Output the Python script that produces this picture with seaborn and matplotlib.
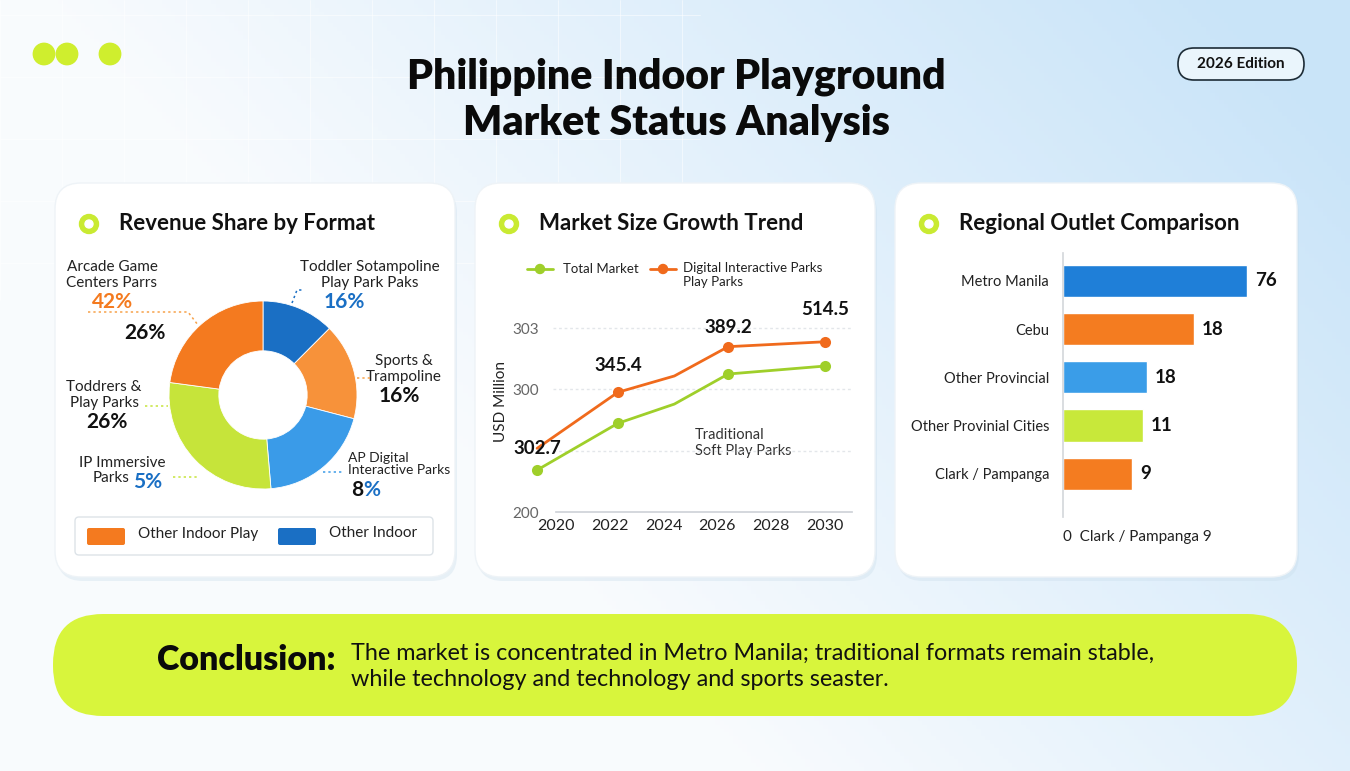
import numpy as np
import matplotlib
matplotlib.use("Agg")
import matplotlib.pyplot as plt
from matplotlib.patches import FancyBboxPatch, Circle
import seaborn as sns

# ---- data ----
pie_labels = ["Toddler Play Parks", "Sports & Trampoline", "AR Digital Interactive Parks",
              "Toddrers & Play Parks", "Arcade Game Centers"]
pie_share = [12.5, 16.6, 19.6, 28.5, 22.9]
pie_colors = ["#1a6fc4", "#f7923a", "#3a9be8", "#c6e43a", "#f47a1f"]

years_total = [2019.3, 2022.3, 2024.4, 2026.4, 2030.0]
total_market = [234.2, 272.3, 288.0, 312.5, 319.0]
years_digital = [2019.3, 2022.3, 2024.4, 2026.4, 2030.0]
digital_parks = [251.9, 297.6, 310.9, 334.8, 338.8]
point_labels = ["302.7", "345.4", "389.2", "514.5"]
y_ticks = [200, 250, 300, 350]
y_tick_labels = ["200", "", "300", "303"]
x_ticks = [2020, 2022, 2024, 2026, 2028, 2030]

regions = ["Metro Manila", "Cebu", "Other Provincial", "Other Provinial Cities", "Clark / Pampanga"]
outlet_bars = [76, 54.2, 34.8, 32.9, 28.6]
outlet_text = ["76", "18", "18", "11", "9"]
outlet_colors = ["#1f7fd8", "#f47c20", "#3a9de8", "#c8e83a", "#f47c20"]

W, H = 1350, 771
sns.set_theme(style="white")
plt.rcParams["font.family"] = ["Lato", "DejaVu Sans"]

fig = plt.figure(figsize=(W / 100, H / 100), dpi=100)


def px_rect(x0, y0, x1, y1):
    return [x0 / W, 1 - y1 / H, (x1 - x0) / W, (y1 - y0) / H]


# background canvas in pixel coords
bg = fig.add_axes([0, 0, 1, 1])
bg.set_xlim(0, W)
bg.set_ylim(H, 0)
bg.axis("off")
gx = np.linspace(0, 1, 300)
gy = np.linspace(0, 1, 200)[:, None]
t = np.clip(gx[None, :] * 1.15 - 0.25 + (0.35 - gy) * 0.6, 0, 1)
c0 = np.array([0.975, 0.985, 0.995])
c1 = np.array([0.79, 0.895, 0.975])
img = c0 + (c1 - c0) * t[..., None]
bg.imshow(img, extent=[0, W, H, 0], aspect="auto", zorder=0)
for gxl in range(0, 700, 62):
    bg.plot([gxl, gxl], [0, 300], color="white", lw=0.6, alpha=0.6, zorder=0.5)
for gyl in range(15, 300, 62):
    bg.plot([0, 700], [gyl, gyl], color="white", lw=0.6, alpha=0.6, zorder=0.5)

# decorative dots
for cx in (44, 67, 110):
    bg.add_patch(Circle((cx, 54), 10.7, color="#cfee2e", zorder=2))

# edition pill
bg.add_patch(FancyBboxPatch((1178, 48), 126, 32, boxstyle="round,pad=0,rounding_size=16",
                            fc="#eaf5fc", ec="#1c2b36", lw=1.2, zorder=2))
bg.text(1241, 64, "2026 Edition", ha="center", va="center", fontsize=11, weight="bold",
        color="#111", zorder=3)

# title
bg.text(676, 77, "Philippine Indoor Playground", ha="center", va="center", fontsize=29.5,
        weight="heavy", color="#0a0a0a", zorder=3)
bg.text(676, 123, "Market Status Analysis", ha="center", va="center", fontsize=29.5,
        weight="heavy", color="#0a0a0a", zorder=3)

# cards
cards = [(55, 183, 455, 577), (475, 183, 875, 577), (895, 183, 1297, 577)]
titles = ["Revenue Share by Format", "Market Size Growth Trend", "Regional Outlet Comparison"]
for (x0, y0, x1, y1), ttl in zip(cards, titles):
    bg.add_patch(FancyBboxPatch((x0 + 2, y0 + 4), x1 - x0, y1 - y0,
                                boxstyle="round,pad=0,rounding_size=26",
                                fc="#c9dcea", ec="none", alpha=0.35, zorder=1))
    bg.add_patch(FancyBboxPatch((x0, y0), x1 - x0, y1 - y0,
                                boxstyle="round,pad=0,rounding_size=26",
                                fc="white", ec="#eef3f7", lw=1, zorder=1.5))
    bg.add_patch(Circle((x0 + 34, 224), 9.5, color="#c9ea32", zorder=2))
    bg.add_patch(Circle((x0 + 34, 224), 4, color="white", zorder=2.1))
    bg.text(x0 + 64, 224, ttl, ha="left", va="center", fontsize=16, weight="bold",
            color="#111", zorder=3)

# conclusion bar
bg.add_patch(FancyBboxPatch((53, 614), 1244, 102, boxstyle="round,pad=0,rounding_size=50",
                            fc="#d8f53c", ec="none", zorder=2))
bg.text(157, 660, "Conclusion:", ha="left", va="center", fontsize=24.5, weight="heavy",
        color="#0a0a0a", zorder=3)
bg.text(351, 653, "The market is concentrated in Metro Manila; traditional formats remain stable,",
        ha="left", va="center", fontsize=16.8, color="#111", zorder=3)
bg.text(351, 679, "while technology and technology and sports sеaster.",
        ha="left", va="center", fontsize=16.8, color="#111", zorder=3)

# ---- donut ----
r = 94
cx, cy = 263, 395
ax1 = fig.add_axes(px_rect(cx - r, cy - r, cx + r, cy + r))
ax1.pie(pie_share, colors=pie_colors, startangle=90, counterclock=False, radius=1,
        wedgeprops=dict(width=0.53, edgecolor="white", linewidth=0.6))
ax1.set_xlim(-1, 1)
ax1.set_ylim(-1, 1)
ax1.axis("off")

lab = dict(fontsize=11, color="#222", zorder=3)
big = dict(fontsize=15, weight="bold", zorder=3)
bg.text(112, 275, "Arcade Game\nCenters Parrs", ha="center", va="center", linespacing=1.1, **lab)
bg.text(113, 302, "42%", ha="center", va="center", color="#f47a1f", **big)
bg.text(145, 333, "26%", ha="center", va="center", color="#111", **big)
bg.text(370, 275, "Toddler Sotampoline\nPlay Park Paks", ha="center", va="center", linespacing=1.1, **lab)
bg.text(344, 302, "16%", ha="center", va="center", color="#1a6fc4", **big)
bg.text(404, 369, "Sports &\nTrampoline", ha="center", va="center", linespacing=1.1, **lab)
bg.text(399, 396, "16%", ha="center", va="center", color="#111", **big)
bg.text(104, 395, "Toddrers &\nPlay Parks", ha="center", va="center", linespacing=1.1, **lab)
bg.text(107, 422, "26%", ha="center", va="center", color="#111", **big)
bg.text(122, 463, "IP Immersive", ha="center", va="center", **lab)
bg.text(129, 478, "Parks", ha="right", va="center", **lab)
bg.text(133, 482, "5%", ha="left", va="center", color="#1a6fc4", **big)
bg.text(348, 464, "AP Digital\nInteractive Parks", ha="left", va="center", linespacing=1.1,
        fontsize=10, color="#222", zorder=3)
bg.text(363, 490, "8", ha="right", va="center", color="#111", **big)
bg.text(363, 490, "%", ha="left", va="center", color="#1a6fc4", **big)

dot = dict(lw=1.1, ls=(0, (1.5, 2)), zorder=3)
bg.plot([88, 188, 198], [312, 312, 325], color="#f7a24a", **dot)
bg.plot([292, 297, 303], [303, 290, 290], color="#1a6fc4", **dot)
bg.plot([357, 371], [378, 378], color="#f7a24a", **dot)
bg.plot([145, 168], [406, 406], color="#c6e43a", **dot)
bg.plot([173, 198], [477, 477], color="#c6e43a", **dot)
bg.plot([323, 343], [472, 472], color="#3a9be8", **dot)

# legend box
bg.add_patch(FancyBboxPatch((75, 517), 358, 38, boxstyle="round,pad=0,rounding_size=4",
                            fc="white", ec="#dde3e8", lw=1, zorder=2))
bg.add_patch(FancyBboxPatch((87, 528), 38, 17, boxstyle="round,pad=0,rounding_size=2",
                            fc="#f47a1f", ec="none", zorder=3))
bg.text(138, 534, "Other Indoor Play", ha="left", va="center", **lab)
bg.add_patch(FancyBboxPatch((278, 528), 38, 17, boxstyle="round,pad=0,rounding_size=2",
                            fc="#1a6fc4", ec="none", zorder=3))
bg.text(329, 533, "Other Indoor", ha="left", va="center", **lab)

# ---- line chart ----
ax2 = fig.add_axes(px_rect(553, 290, 852, 512))
sns.lineplot(x=years_total, y=total_market, ax=ax2, color="#9fcf2a", lw=2, sort=False,
             marker="o", markersize=8, markeredgewidth=0, markevery=[0, 1, 3, 4], clip_on=False)
sns.lineplot(x=years_digital, y=digital_parks, ax=ax2, color="#f06a1c", lw=2, sort=False,
             marker="o", markersize=8, markeredgewidth=0, markevery=[1, 3, 4], clip_on=False)
ax2.set_xlim(2019.89, 2031.0)
ax2.set_ylim(200, 381)
ax2.set_yticks(y_ticks)
ax2.set_yticklabels(y_tick_labels)
ax2.set_xticks(x_ticks)
ax2.set_xticklabels([str(x) for x in x_ticks])
ax2.tick_params(axis="y", length=0, labelsize=11, labelcolor="#666", pad=10)
ax2.tick_params(axis="x", length=4, width=0.8, color="#ccc", labelsize=11.5, labelcolor="#222", pad=5,
                direction="in")
for y in y_ticks[1:]:
    ax2.axhline(y, color="#e3e6ea", lw=1, ls=(0, (2, 2)), zorder=0)
for s in ("left", "right", "top"):
    ax2.spines[s].set_visible(False)
ax2.spines["bottom"].set_color("#cfd3d8")
ax2.spines["bottom"].set_bounds(2020, 2031)
ax2.set_facecolor("none")
ax2.set_ylabel("USD Million", fontsize=11, color="#222", labelpad=3)
ax2.set_xlabel("")
ann_x = [years_digital[0], years_digital[1], years_digital[3], years_digital[4]]
ann_y = [digital_parks[0], digital_parks[1] + 22, digital_parks[3] + 16, digital_parks[4] + 26]
for xv, yv, txt in zip(ann_x, ann_y, point_labels):
    ax2.text(xv, yv, txt, ha="center", va="center", fontsize=13.5, weight="bold", color="#111",
             clip_on=False)
bg.text(695, 443, "Traditional\nSoft Play Parks", ha="left", va="center", linespacing=1.2,
        fontsize=10.5, color="#333", zorder=3)

# line legend
bg.plot([527, 553], [269, 269], color="#9fcf2a", lw=2, zorder=3)
bg.add_patch(Circle((540, 269), 4.5, color="#9fcf2a", zorder=4))
bg.text(563, 269, "Total Market", ha="left", va="center", fontsize=9.5, color="#222", zorder=3)
bg.plot([650, 676], [269, 269], color="#f06a1c", lw=2, zorder=3)
bg.add_patch(Circle((663, 269), 4.5, color="#f06a1c", zorder=4))
bg.text(683, 275, "Digital Interactive Parks\nPlay Parks", ha="left", va="center",
        linespacing=1.1, fontsize=9.5, color="#222", zorder=3)

# ---- bar chart ----
ax3 = fig.add_axes(px_rect(1063, 253, 1290, 517))
sns.barplot(x=outlet_bars, y=regions, hue=regions, palette=outlet_colors, legend=False,
            orient="h", width=0.67, ax=ax3, saturation=1)
ax3.set_xlim(0, 93.8)
ax3.set_ylim(4.894, -0.575)
for s in ("right", "top", "bottom"):
    ax3.spines[s].set_visible(False)
ax3.spines["left"].set_color("#d5d8dc")
ax3.set_facecolor("none")
ax3.tick_params(axis="y", length=0, labelsize=10.5, labelcolor="#222", pad=10)
ax3.set_xticks([0])
ax3.set_xticklabels(["0  Clark / Pampanga 9"], ha="left")
ax3.tick_params(axis="x", length=0, labelsize=11, labelcolor="#222", pad=9)
ax3.set_xlabel("")
ax3.set_ylabel("")
for i, (v, t) in enumerate(zip(outlet_bars, outlet_text)):
    ax3.text(v + 3.2, i, t, ha="left", va="center", fontsize=13.5, weight="bold", color="#111")

fig.savefig("out.png", dpi=100)
